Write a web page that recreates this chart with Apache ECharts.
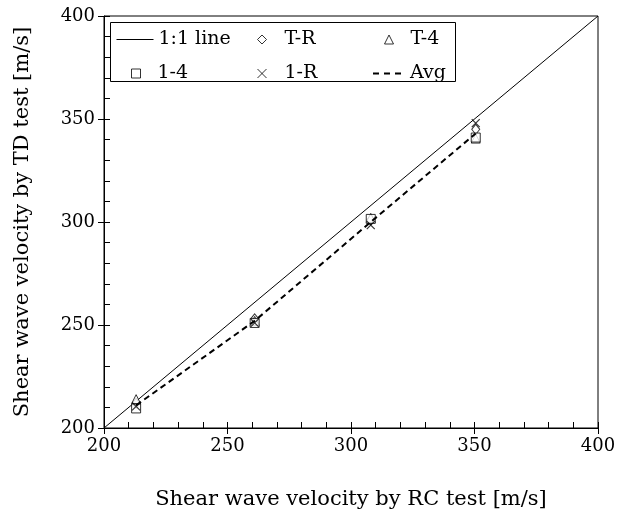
<!DOCTYPE html>
<html>
<head>
<meta charset="utf-8">
<script src="https://cdn.jsdelivr.net/npm/echarts@6/dist/echarts.min.js"></script>
<style>
  html, body { margin: 0; background: #fff; }
  #chart { width: 630px; height: 516px; }
</style>
</head>
<body>
<div id="chart"></div>
<script>
// shear wave velocity by RC test (x) and TD test (y), m/s
const rcVelocity = [213, 261, 308, 350.5]
const tdTR = [212, 253, 301, 345]
const tdT4 = [214, 252, 302, 340.5]
const td14 = [209.5, 251, 301.5, 341]
const td1R = [210.5, 251, 298.5, 348]
const tdAvg = [211, 252, 300, 343]
const oneToOne = [200, 400]
const axisTicks = [200, 250, 300, 350, 400]

const font = 'DejaVu Serif'
const black = '#000'

function pairs(xs, ys) {
  return xs.map((x, i) => [x, ys[i]])
}

const hollow = { color: '#fff', borderColor: black, borderWidth: 1 }

function mainAxis(name, nameGap, position) {
  return {
    type: 'value',
    position: position,
    min: axisTicks[0],
    max: axisTicks[axisTicks.length - 1],
    interval: axisTicks[1] - axisTicks[0],
    name: name,
    nameLocation: 'middle',
    nameGap: nameGap,
    nameTextStyle: { fontFamily: font, fontSize: 21, color: black },
    axisLine: { show: true, lineStyle: { color: black, width: 1 } },
    axisTick: { show: true, inside: true, length: 6, lineStyle: { color: black } },
    minorTick: { show: true, splitNumber: 5, length: 6, lineStyle: { color: black } },
    axisLabel: { fontFamily: font, fontSize: 18, color: black, margin: 9 },
    splitLine: { show: false }
  }
}

// second copy of each axis only to draw the outer half of the major ticks
function outerTicks(position) {
  return {
    type: 'value',
    position: position,
    min: axisTicks[0],
    max: axisTicks[axisTicks.length - 1],
    interval: axisTicks[1] - axisTicks[0],
    axisLine: { show: false },
    axisTick: { show: true, inside: false, length: 6, lineStyle: { color: black } },
    axisLabel: { show: false },
    splitLine: { show: false }
  }
}

function legendItem(name, left, top, w, h, textPad, line) {
  return {
    data: [name],
    left: left,
    top: top,
    padding: 0,
    itemWidth: w,
    itemHeight: h,
    selectedMode: false,
    z: 10,
    // line entries get no marker, only their stroke
    itemStyle: line
      ? { color: 'transparent', borderColor: 'transparent', borderWidth: 0 }
      : { color: '#fff', borderColor: black, borderWidth: 1 },
    lineStyle: line || { width: 1 },
    textStyle: { fontFamily: font, fontSize: 19, color: black, padding: [0, 0, 0, textPad] }
  }
}

const chart = echarts.init(document.getElementById('chart'))

chart.setOption({
  animation: false,
  grid: {
    left: 104, right: 32, top: 16, bottom: 88,
    show: true, borderColor: black, borderWidth: 1
  },
  xAxis: [
    mainAxis('Shear wave velocity by RC test [m/s]', 61, 'bottom'),
    outerTicks('bottom')
  ],
  yAxis: [
    mainAxis('Shear wave velocity by TD test [m/s]', 71, 'left'),
    outerTicks('left')
  ],
  graphic: [{
    type: 'rect',
    shape: { x: 110.5, y: 22.5, width: 345, height: 59 },
    style: { fill: '#fff', stroke: black, lineWidth: 1 },
    z: 3
  }],
  legend: [
    legendItem('1:1 line', 116, 30, 37, 2, 0, { color: black, width: 1 }),
    legendItem('T-R', 257, 30, 9, 9, 13),
    legendItem('T-4', 384, 30, 9, 9, 12),
    legendItem('1-4', 131, 64, 9, 9, 12),
    legendItem('1-R', 257, 64, 9, 9, 13),
    legendItem('Avg', 372, 64, 32, 2, 0, { color: black, width: 2, type: [6, 5] })
  ],
  series: [
    {
      name: '1:1 line',
      type: 'line',
      symbol: 'none',
      data: pairs(oneToOne, oneToOne),
      lineStyle: { color: black, width: 1 },
      itemStyle: { color: black },
      z: 1
    },
    {
      name: 'T-R',
      type: 'scatter',
      symbol: 'diamond',
      symbolSize: [8, 10],
      data: pairs(rcVelocity, tdTR),
      itemStyle: hollow
    },
    {
      name: 'T-4',
      type: 'scatter',
      symbol: 'triangle',
      symbolSize: [9, 9],
      data: pairs(rcVelocity, tdT4),
      itemStyle: hollow
    },
    {
      name: '1-4',
      type: 'scatter',
      symbol: 'rect',
      symbolSize: 9,
      data: pairs(rcVelocity, td14),
      itemStyle: hollow
    },
    {
      name: '1-R',
      type: 'scatter',
      symbol: 'path://M0,0L10,10M0,10L10,0',
      symbolSize: 8,
      data: pairs(rcVelocity, td1R),
      itemStyle: { color: 'none', borderColor: black, borderWidth: 1.2 }
    },
    {
      name: 'Avg',
      type: 'line',
      symbol: 'none',
      data: pairs(rcVelocity, tdAvg),
      lineStyle: { color: black, width: 2, type: [6, 4] },
      itemStyle: { color: black },
      z: 3
    }
  ]
})
</script>
</body>
</html>
